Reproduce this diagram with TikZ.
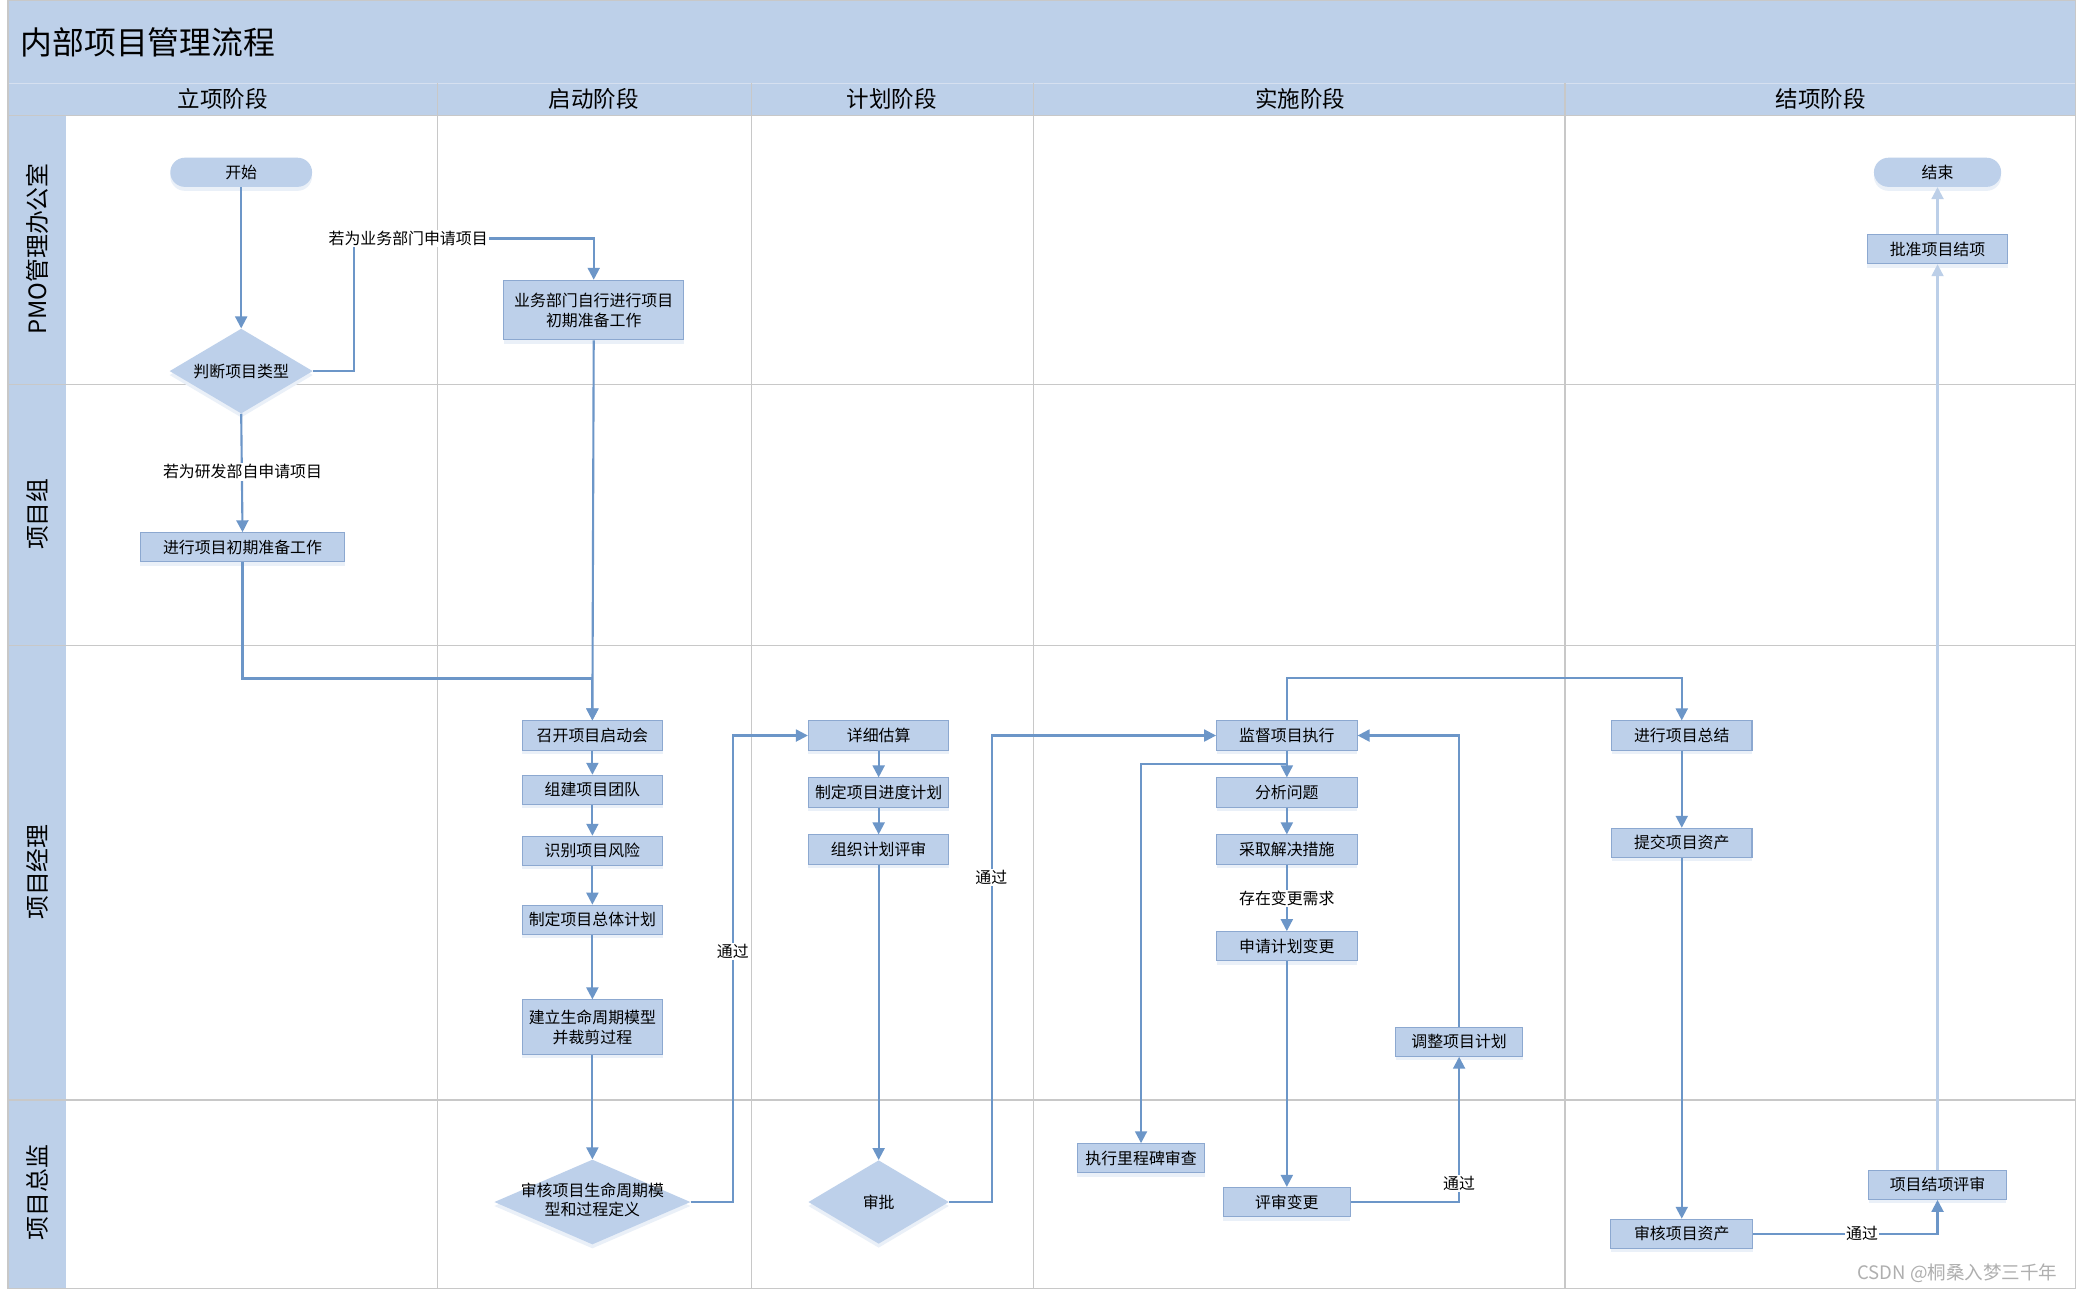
\documentclass[tikz,border=0pt]{standalone}
\usepackage{fontspec}
\setmainfont{Noto Sans CJK SC}
\usetikzlibrary{arrows.meta,shapes.geometric,shadows}
\definecolor{band}{RGB}{189,208,233}
\definecolor{boxfill}{RGB}{189,208,234}
\definecolor{boxline}{RGB}{140,168,208}
\definecolor{conn}{RGB}{108,150,200}
\definecolor{lightconn}{RGB}{188,207,232}
\definecolor{gridc}{RGB}{200,200,200}
\definecolor{shade}{RGB}{234,240,248}
\definecolor{wm}{RGB}{175,175,175}
\begin{document}
\begin{tikzpicture}[x=1pt,y=-1pt,
  every node/.style={font=\fontsize{12}{15}\selectfont},
  box/.style={draw=boxline, fill=boxfill, line width=0.8pt, minimum width=106pt,
    minimum height=22pt, inner sep=1pt, align=center,
    general shadow={fill=shade, shadow yshift=-3pt}},
  term/.style={fill=boxfill, rounded corners=11pt, minimum width=107pt,
    minimum height=22pt, inner sep=1pt,
    general shadow={fill=shade, shadow yshift=-3pt}},
  dec/.style={diamond, aspect=1.7, fill=boxfill, inner sep=0pt, align=center,
    general shadow={fill=shade, shadow yshift=-3pt}},
  arr/.style={draw=conn, line width=1.6pt, -{Triangle[length=9pt,width=9pt]}},
  larr/.style={draw=lightconn, line width=1.6pt, -{Triangle[length=9pt,width=9pt]}},
  lbl/.style={fill=white, inner sep=1pt},
  lane/.style={rotate=90, font=\fontsize{18}{20}\selectfont},
  phase/.style={font=\fontsize{17}{19}\selectfont},
  gridline/.style={draw=gridc, line width=1pt}
]
\useasboundingbox (0,0) rectangle (1568,975);
% background
\fill[white] (0,0) rectangle (1568,975);
\fill[band] (6,0) rectangle (1566,87);
\fill[band] (6,87) rectangle (50,972);
\draw[draw={rgb,255:red,214;green,224;blue,240}, line width=1pt] (6,63) -- (1566,63);
% grid
\foreach \xx in {330,567,780,1181} {\draw[gridline] (\xx,63) -- (\xx,972);}
\foreach \yy in {290,487,830} {\draw[gridline] (6,\yy) -- (1566,\yy);}
\draw[gridline] (6,87) -- (1566,87);
\draw[gridline] (6,0) rectangle (1566,972);
% title
\node[anchor=west, font=\fontsize{24}{28}\selectfont] (title) at (12,32) {内部项目管理流程};
% phases
\node[phase] (ph1) at (168,75) {立项阶段};
\node[phase] (ph2) at (448,75) {启动阶段};
\node[phase] (ph3) at (673,75) {计划阶段};
\node[phase] (ph4) at (981,75) {实施阶段};
\node[phase] (ph5) at (1374,75) {结项阶段};
% lanes
\node[lane] (ln1) at (28,188) {PMO管理办公室};
\node[lane] (ln2) at (28,388) {项目组};
\node[lane] (ln3) at (28,658) {项目经理};
\node[lane] (ln4) at (28,900) {项目总监};
% nodes
\node[term] (start) at (182,130) {开始};
\node[dec, minimum width=108pt, minimum height=64pt] (pd) at (182,280) {判断项目类型};
\node[box, minimum width=136pt, minimum height=45pt] (ywbm) at (448,234) {业务部门自行进行项目\\初期准备工作};
\node[box, minimum width=154pt] (jx) at (183,413) {进行项目初期准备工作};
\node[box] (qd) at (447,555) {召开项目启动会};
\node[box] (td) at (447,596) {组建项目团队};
\node[box] (fxsb) at (447,642) {识别项目风险};
\node[box] (ztjh) at (447,694) {制定项目总体计划};
\node[box, minimum height=41pt] (smzq) at (447,775) {建立生命周期模型\\并裁剪过程};
\node[dec, minimum width=148pt, minimum height=64pt] (shdy) at (447,907)
  {\makebox[0pt]{\raisebox{-3pt}[0pt][0pt]{\begin{tabular}{@{}c@{}}审核项目生命周期模\\型和过程定义\end{tabular}}}};
\node[box] (xg) at (663,555) {详细估算};
\node[box] (jdjh) at (663,598) {制定项目进度计划};
\node[box] (zzps) at (663,641) {组织计划评审};
\node[dec, minimum width=106pt, minimum height=63pt] (sp) at (663,907) {审批};
\node[box] (jdzx) at (971,555) {监督项目执行};
\node[box] (fxwt) at (971,598) {分析问题};
\node[box] (cqcs) at (971,641) {采取解决措施};
\node[box] (sqbg) at (971,714) {申请计划变更};
\node[box, minimum width=96pt] (tzjh) at (1101,786) {调整项目计划};
\node[box, minimum width=96pt] (lcb) at (861,874) {执行里程碑审查};
\node[box, minimum width=96pt] (psbg) at (971,907) {评审变更};
\node[box] (zongjie) at (1269,555) {进行项目总结};
\node[box] (tjzc) at (1269,636) {提交项目资产};
\node[box, minimum width=107pt] (shzc) at (1269,931) {审核项目资产};
\node[box, minimum width=104pt] (jxps) at (1462,894) {项目结项评审};
\node[box] (pzjx) at (1462,188) {批准项目结项};
\node[term, minimum width=96pt] (finish) at (1462,130) {结束};
% bend coordinates
\coordinate (b1) at (267,180);
\coordinate (b2) at (447,512);
% connectors
\draw[arr] (start.south) -- (pd.north);
\draw[arr] (pd.east) -| (b1) -| (ywbm.north);
\node[lbl] (l1) at (308,180) {若为业务部门申请项目};
\draw[arr] (pd.south) -- (jx.north);
\node[lbl] (l2) at (183,356) {若为研发部自申请项目};
\draw[arr] (ywbm.south) -- (qd.north);
\draw[arr] (jx.south) |- (b2) -- (qd.north);
\draw[arr] (qd.south) -- (td.north);
\draw[arr] (td.south) -- (fxsb.north);
\draw[arr] (fxsb.south) -- (ztjh.north);
\draw[arr] (ztjh.south) -- (smzq.north);
\draw[arr] (smzq.south) -- (shdy.north);
\draw[arr] (shdy.east) -- ++(32,0) |- (xg.west);
\node[lbl] (l3) at (553,718) {通过};
\draw[arr] (xg.south) -- (jdjh.north);
\draw[arr] (jdjh.south) -- (zzps.north);
\draw[arr] (zzps.south) -- (sp.north);
\draw[arr] (sp.east) -- ++(32,0) |- (jdzx.west);
\node[lbl] (l4) at (748,662) {通过};
\draw[arr] (jdzx.south) -- (fxwt.north);
\draw[arr] (jdzx.south) -- ++(0,10) -| (lcb.north);
\draw[arr] (fxwt.south) -- (cqcs.north);
\draw[arr] (cqcs.south) -- (sqbg.north);
\node[lbl] (l5) at (971,678) {存在变更需求};
\draw[arr] (sqbg.south) -- (psbg.north);
\draw[arr] (psbg.east) -| (tzjh.south);
\node[lbl] (l6) at (1101,893) {通过};
\draw[arr] (tzjh.north) |- (jdzx.east);
\draw[arr] (jdzx.north) -- ++(0,-32) -| (zongjie.north);
\draw[arr] (zongjie.south) -- (tjzc.north);
\draw[arr] (tjzc.south) -- (shzc.north);
\draw[arr] (shzc.east) -| (jxps.south);
\node[lbl] (l7) at (1405,931) {通过};
\draw[larr] (jxps.north) -- (pzjx.south);
\draw[larr] (pzjx.north) -- (finish.south);
% watermark
\node[text=wm, font=\fontsize{14}{16}\selectfont] (wmk) at (1477,961) {CSDN @桐桑入梦三千年};
\end{tikzpicture}
\end{document}
